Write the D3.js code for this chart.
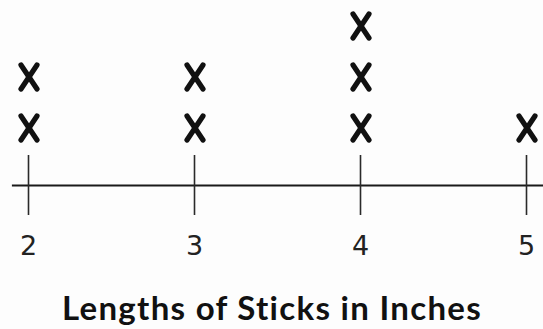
<!DOCTYPE html>
<html>
  <head>
    <script src="https://d3js.org/d3.v7.min.js"></script>
    <style>
      body { margin: 0; background: #fdfdfd; }
    </style>
  </head>
  <body>
    <script>

    // one entry per stick measured (inches)
    const lengths = [2, 2, 3, 3, 4, 4, 4, 5];
    const tickValues = [2, 3, 4, 5];
    const title = "Lengths of Sticks in Inches";

    const width = 543;
    const height = 329;
    const axisY = 185;

    const x = d3.scaleLinear()
        .domain([1.9, 5.1])
        .range([11.4, 542.6]);

    const y = d3.scaleLinear()
        .domain([0, 3])
        .range([179, 26]);

    // stack the marks: each value gets its running count
    const seen = {};
    const marks = lengths.map(v => {
      seen[v] = (seen[v] || 0) + 1;
      return { value: v, level: seen[v] };
    });

    const svg = d3.select("body").append("svg")
        .attr("width", width)
        .attr("height", height);

    const axis = svg.append("g")
        .attr("transform", `translate(0,${axisY})`)
        .call(d3.axisBottom(x)
          .tickValues(tickValues)
          .tickFormat(d3.format("d"))
          .tickSizeInner(30)
          .tickSizeOuter(0));

    axis.select(".domain")
        .attr("stroke", "#1a1a1a")
        .attr("stroke-width", 2.2);

    axis.selectAll(".tick line")
        .attr("y1", -30)
        .attr("y2", 30)
        .attr("stroke", "#2a2a2a")
        .attr("stroke-width", 1.6);

    axis.selectAll(".tick text")
        .attr("y", 70)
        .attr("dy", 0)
        .attr("fill", "#222")
        .style("font-family", "'DejaVu Sans', sans-serif")
        .style("font-size", "27px");

    // X marks drawn as two crossing strokes
    const hw = 8, hh = 12;
    const xs = svg.append("g")
        .attr("stroke", "#111")
        .attr("stroke-width", 5.2)
        .attr("stroke-linecap", "round")
      .selectAll("g")
      .data(marks)
      .enter().append("g")
        .attr("transform", d => `translate(${x(d.value) + 1},${y(d.level)})`);

    xs.append("line")
        .attr("x1", -hw).attr("y1", -hh)
        .attr("x2", hw).attr("y2", hh);
    xs.append("line")
        .attr("x1", hw).attr("y1", -hh)
        .attr("x2", -hw).attr("y2", hh);

    svg.append("text")
        .attr("x", 272)
        .attr("y", 320)
        .attr("text-anchor", "middle")
        .attr("fill", "#111")
        .style("font-family", "Lato, sans-serif")
        .style("font-weight", "bold")
        .style("font-size", "33px")
        .style("letter-spacing", "1.3px")
        .text(title);

    </script>
  </body>
</html>
